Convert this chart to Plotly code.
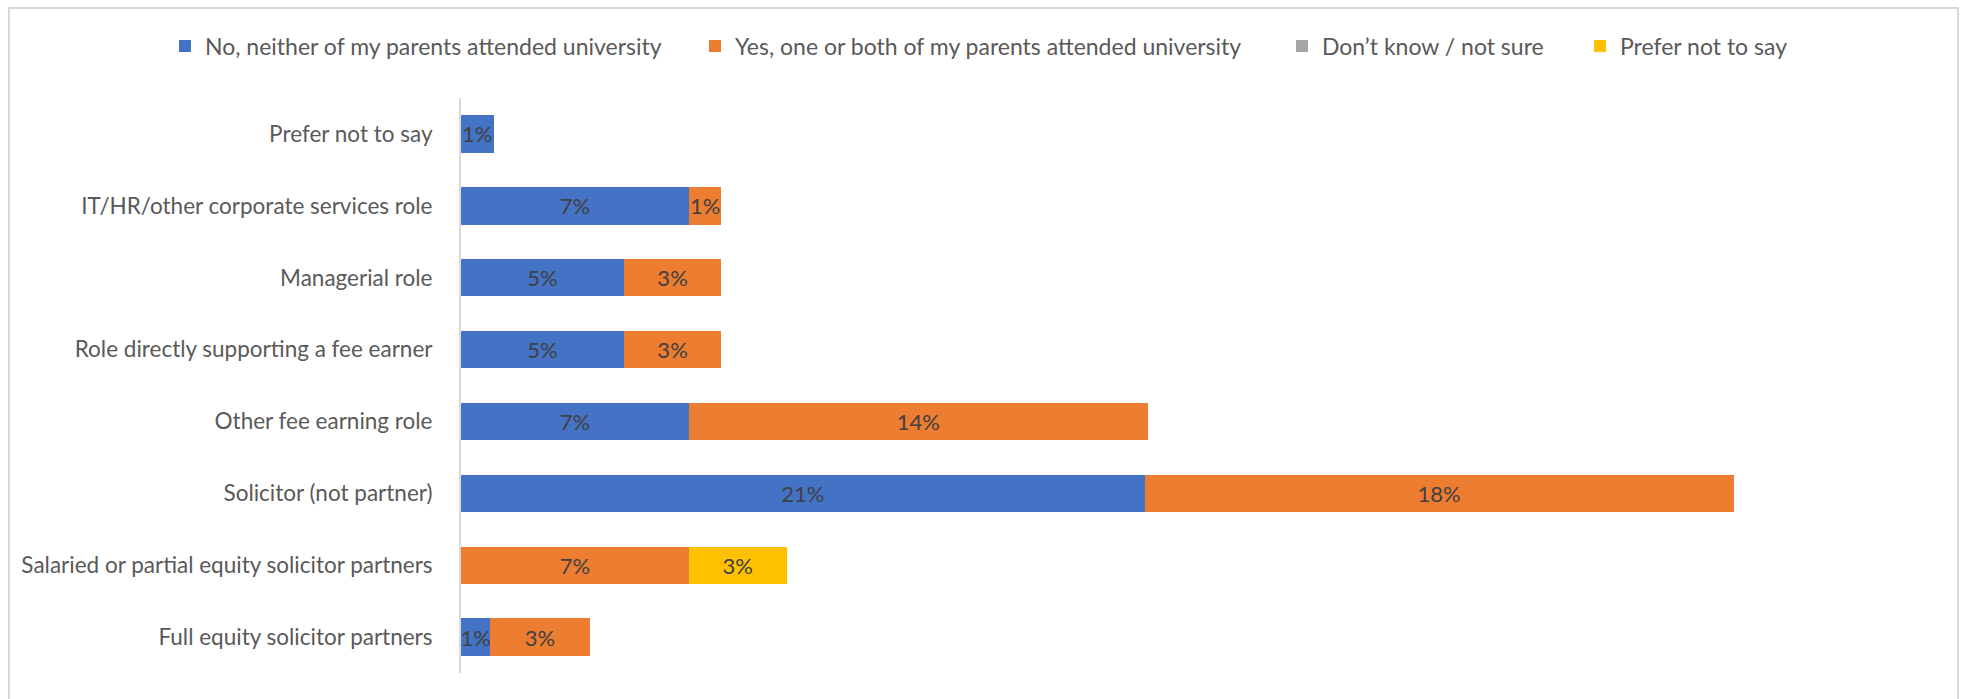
import plotly.graph_objects as go

categories = [
    "Full equity solicitor partners",
    "Salaried or partial equity solicitor partners",
    "Solicitor (not partner)",
    "Other fee earning role",
    "Role directly supporting a fee earner",
    "Managerial role",
    "IT/HR/other corporate services role",
    "Prefer not to say",
]
series_names = [
    "No, neither of my parents attended university",
    "Yes, one or both of my parents attended university",
    "Don\u2019t know / not sure",
    "Prefer not to say",
]
no_vals = [0.9, 0, 21.0, 7.0, 5.0, 5.0, 7.0, 1.0]
yes_vals = [3.05, 7.0, 18.1, 14.1, 3.0, 3.0, 1.0, 0]
dont_know_vals = [0, 0, 0, 0, 0, 0, 0, 0]
prefer_vals = [0, 3.0, 0, 0, 0, 0, 0, 0]
colors = ["#4472C4", "#ED7D31", "#A5A5A5", "#FFC000"]

W, H = 1966, 699
ML, MR, MT, MB = 461, 66, 98, 26
PW, PH = W - ML - MR, H - MT - MB

def px_x(p):
    return (p - ML) / PW

def px_y(p):
    return (H - MB - p) / PH

FONT = "Lato"
fig = go.Figure()
legend_text_x = [205, 735, 1322, 1620]
all_vals = [no_vals, yes_vals, dont_know_vals, prefer_vals]
for i, (name, vals, col) in enumerate(zip(series_names, all_vals, colors)):
    lg = "legend" if i == 0 else f"legend{i+1}"
    fig.add_trace(go.Bar(
        y=categories, x=[v if v else None for v in vals], name=name, orientation="h",
        marker=dict(color=col, line=dict(width=0)),
        text=[f"{v:.0f}%" if v else "" for v in vals],
        textposition="inside", insidetextanchor="middle", textangle=0,
        constraintext="none",
        textfont=dict(family=FONT, size=22, color="#404040"),
        legend=lg, showlegend=True,
    ))

legends = {}
for i in range(4):
    key = "legend" if i == 0 else f"legend{i+1}"
    legends[key] = dict(
        x=px_x(legend_text_x[i] - 40), xanchor="left",
        y=px_y(46), yanchor="middle",
        orientation="h", bgcolor="rgba(0,0,0,0)",
        font=dict(family=FONT, size=23, color="#595959"),
        itemclick=False, itemdoubleclick=False,
    )

fig.update_layout(
    width=W, height=H,
    margin=dict(l=ML, r=MR, t=MT, b=MB),
    barmode="stack", bargap=0.48,
    plot_bgcolor="white", paper_bgcolor="white",
    font=dict(family=FONT, size=22, color="#595959"),
    xaxis=dict(range=[0, PW / 32.55], showgrid=False, showticklabels=False,
               zeroline=False, showline=False, fixedrange=True),
    yaxis=dict(categoryorder="array", categoryarray=categories,
               showgrid=False, showline=True, linecolor="#D9D9D9", linewidth=2,
               ticks="", ticklabelstandoff=22,
               tickfont=dict(family=FONT, size=22.5, color="#595959")),
    shapes=[dict(type="rect", xref="paper", yref="paper",
                 x0=px_x(9), x1=px_x(1958), y0=px_y(740), y1=px_y(8),
                 line=dict(color="#D9D9D9", width=2), fillcolor="rgba(0,0,0,0)",
                 layer="below")],
    **legends,
)
fig.write_html("out.html", config={"displayModeBar": False},
               post_script="document.body.style.margin='0';")
